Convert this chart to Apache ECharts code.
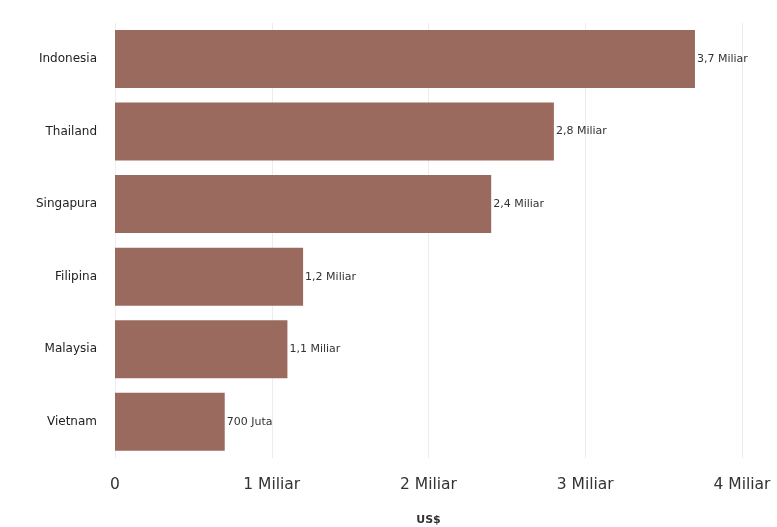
<!DOCTYPE html>
<html><head><meta charset="utf-8">
<script src="https://cdn.jsdelivr.net/npm/echarts@6/dist/echarts.min.js"></script>
<style>html,body{margin:0;padding:0;background:#fff}#c{width:777px;height:527px}</style>
</head><body><div id="c"></div>
<script>
const categories = ["Indonesia","Thailand","Singapura","Filipina","Malaysia","Vietnam"];
const values = [3.7, 2.8, 2.4, 1.2, 1.1, 0.7];
const valueLabels = ["3,7 Miliar","2,8 Miliar","2,4 Miliar","1,2 Miliar","1,1 Miliar","700 Juta"];
const tickLabels = ["0","1 Miliar","2 Miliar","3 Miliar","4 Miliar"];
const axisName = "US$";

const chart = echarts.init(document.getElementById('c'), null, {renderer:'canvas'});
chart.setOption({
  animation:false,
  grid:{left:115,right:35,top:22.75,bottom:69,containLabel:false,outerBoundsMode:'none'},
  xAxis:{type:'value',min:0,max:4,interval:1,
    name:axisName,nameLocation:'middle',nameGap:57,
    nameTextStyle:{fontFamily:'DejaVu Sans',fontSize:11,fontWeight:'bold',color:'#333'},
    axisLine:{show:false},axisTick:{show:false},
    axisLabel:{fontFamily:'DejaVu Sans',fontSize:15.5,color:'#333',margin:19,
      formatter:(v)=>tickLabels[Math.round(v)]},
    splitLine:{show:true,lineStyle:{color:'#ececec',width:1}}},
  yAxis:{type:'category',data:categories.slice().reverse(),
    axisLine:{show:true,lineStyle:{color:'#eeeeee'}},
    axisTick:{show:false},
    axisLabel:{fontFamily:'DejaVu Sans',fontSize:12,color:'#222',margin:18}},
  series:[{type:'bar',data:values.slice().reverse(),barCategoryGap:'20%',
    itemStyle:{color:'#9b6a5f'},
    label:{show:true,position:'right',distance:2,fontFamily:'DejaVu Sans',fontSize:11,color:'#333',
      formatter:(p)=>valueLabels.slice().reverse()[p.dataIndex]}}]
});
</script></body></html>
